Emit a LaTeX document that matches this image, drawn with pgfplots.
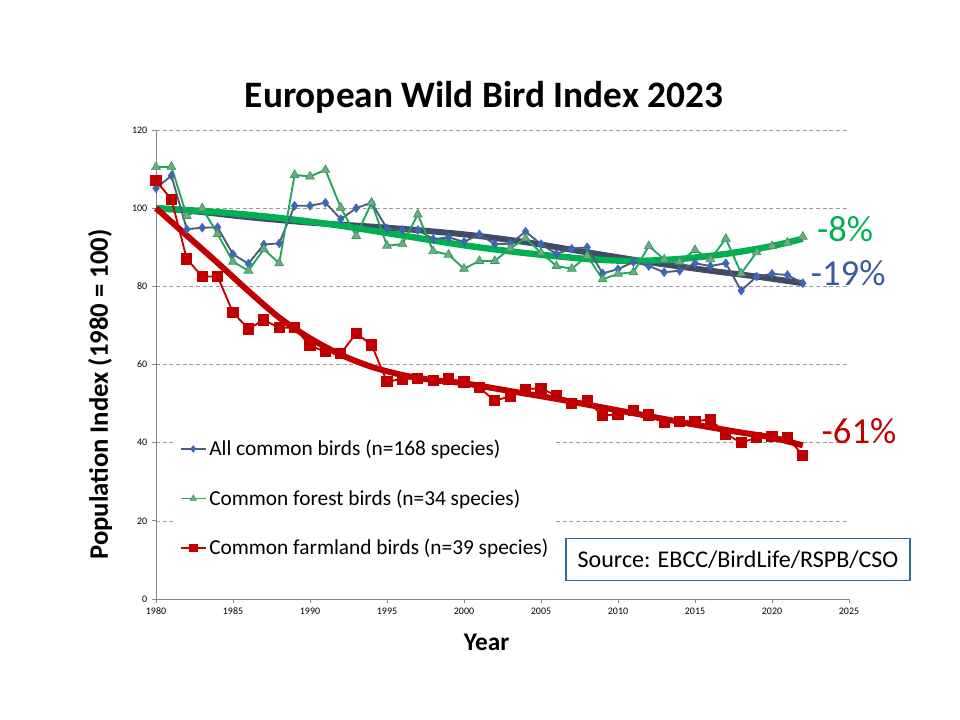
\documentclass[border=0pt]{standalone}
\usepackage{fontspec}
\setmainfont{Carlito}
\usepackage{pgfplots}
\pgfplotsset{compat=1.18}
\definecolor{bluedata}{HTML}{4D5A7A}
\definecolor{bluemark}{HTML}{3E66B4}
\definecolor{bluetrend}{HTML}{414B67}
\definecolor{greendata}{HTML}{1FA65A}
\definecolor{greenmark}{HTML}{7FA287}
\definecolor{greentrend}{HTML}{00B050}
\definecolor{reddata}{HTML}{C00000}
\definecolor{bluelabel}{HTML}{3A5A9E}
\definecolor{srcbox}{HTML}{2E6E9E}
\definecolor{axisgray}{HTML}{868686}
\begin{document}
\begin{tikzpicture}[x=1pt,y=1pt]
\path[use as bounding box] (0,0) rectangle (720,540);
\node[font=\bfseries\fontsize{28}{32}\selectfont] at (363,467) {European Wild Bird Index 2023};
\node[font=\bfseries\fontsize{20}{24}\selectfont, rotate=90] at (75,244) {Population Index (1980 = 100)};
\node[font=\bfseries\fontsize{19}{22}\selectfont] at (365,58) {Year};
\begin{axis}[
  at={(117pt,90.75pt)}, anchor=south west,
  scale only axis, width=519.75pt, height=351.75pt,
  xmin=1980, xmax=2025, ymin=0, ymax=120,
  xtick={1980,1985,...,2025}, ytick={0,20,...,120},
  axis lines*=left,
  axis line style={axisgray, line width=0.6pt},
  tick style={axisgray, line width=0.6pt},
  tick align=outside, major tick length=3pt,
  ymajorgrids,
  major grid style={gray!80, densely dashed, line width=0.4pt},
  ticklabel style={font=\fontsize{7.5}{9}\selectfont},
  /pgf/number format/assume math mode=true,
  x tick label style={/pgf/number format/1000 sep={}},
  clip=false,
  legend cell align=left,
  legend image code/.code={\draw[mark repeat=2, mark phase=2, mark size=2.6pt, line width=1.2pt]
    plot coordinates {(0cm,0cm)(0.33cm,0cm)(0.66cm,0cm)};},
  legend style={at={(0.0265,0.362)}, anchor=north west, draw=none, fill=white,
    font=\fontsize{16}{19}\selectfont, row sep=20pt, inner xsep=4pt, inner ysep=6pt},
]
% trend lines
\addplot[forget plot, bluetrend, line width=4.5pt, smooth] coordinates {
(1980,100)(1983,99)(1986,97.7)(1990,96.3)(1995,95.0)(2000,93.3)(2004,91.3)(2008,88.7)(2012,86.2)(2016,84)(2019,82.5)(2022,80.8)};
\addplot[forget plot, greentrend, line width=4.8pt, smooth] coordinates {
(1980,100)(1984,99)(1988,97.5)(1992,95.5)(1996,93)(2000,90.5)(2004,88.5)(2008,87)(2011,86.5)(2014,87)(2017,88.3)(2020,90.3)(2022,92.2)};
\addplot[forget plot, reddata, line width=4.5pt, smooth] coordinates {
(1980,100)(1982,93)(1984,86)(1986,78.8)(1988,72)(1990,66.7)(1992,62.5)(1994,59.4)(1996,57.3)(1998,56)(2000,55.2)(2003,53.2)(2006,51.2)(2009,49)(2012,46.8)(2015,44.6)(2018,42.6)(2020,41.3)(2022,39.3)};
% data
\addplot[bluedata, line width=1.4pt, mark=diamond*, mark size=3.4pt, mark options={fill=bluemark, draw=bluemark, line width=0.3pt}] coordinates {
(1980,105.1)(1981,108.3)(1982,94.6)(1983,95.0)(1984,95.1)(1985,88.2)(1986,85.8)(1987,90.7)(1988,91.0)(1989,100.6)
(1990,100.6)(1991,101.4)(1992,97.2)(1993,100.0)(1994,101.4)(1995,94.8)(1996,94.4)(1997,94.4)(1998,92.1)(1999,92.5)
(2000,91.4)(2001,93.3)(2002,90.8)(2003,90.9)(2004,94.0)(2005,90.8)(2006,88.3)(2007,89.6)(2008,90.0)(2009,83.3)
(2010,84.4)(2011,86.2)(2012,85.2)(2013,83.6)(2014,84.0)(2015,85.9)(2016,85.2)(2017,85.9)(2018,78.9)(2019,82.5)
(2020,83.2)(2021,82.9)(2022,80.8)};
\addlegendentry{All common birds (n=168 species)}
\addplot[greendata, line width=1.4pt, mark=triangle*, mark size=3.8pt, mark options={fill=greenmark, draw=greendata, line width=0.5pt}] coordinates {
(1980,110.5)(1981,110.6)(1982,98.0)(1983,100.0)(1984,93.4)(1985,86.3)(1986,84.0)(1987,89.5)(1988,85.9)(1989,108.5)
(1990,108.1)(1991,109.8)(1992,100.1)(1993,92.9)(1994,101.4)(1995,90.4)(1996,90.8)(1997,98.4)(1998,89.0)(1999,88.1)
(2000,84.5)(2001,86.5)(2002,86.5)(2003,89.7)(2004,92.3)(2005,88.6)(2006,85.2)(2007,84.5)(2008,87.8)(2009,81.8)
(2010,83.2)(2011,83.6)(2012,90.3)(2013,86.9)(2014,86.3)(2015,89.3)(2016,86.9)(2017,92.2)(2018,83.3)(2019,88.7)
(2020,90.3)(2021,91.2)(2022,92.7)};
\addlegendentry{Common forest birds (n=34 species)}
\addplot[reddata, line width=1.4pt, mark=square*, mark size=3.5pt, mark options={fill=reddata, draw=reddata}] coordinates {
(1980,107.0)(1981,102.3)(1982,87.0)(1983,82.5)(1984,82.5)(1985,73.3)(1986,69.1)(1987,71.4)(1988,69.4)(1989,69.4)
(1990,64.8)(1991,63.3)(1992,62.8)(1993,68.0)(1994,65.0)(1995,55.6)(1996,56.3)(1997,56.4)(1998,55.9)(1999,56.3)
(2000,55.5)(2001,54.1)(2002,50.7)(2003,51.9)(2004,53.7)(2005,53.9)(2006,52.0)(2007,50.1)(2008,50.7)(2009,46.9)
(2010,47.3)(2011,48.2)(2012,47.1)(2013,45.2)(2014,45.4)(2015,45.4)(2016,46.0)(2017,42.2)(2018,40.0)(2019,41.3)
(2020,41.5)(2021,41.3)(2022,36.8)};
\addlegendentry{Common farmland birds (n=39 species)}
\node[text=greentrend, font=\fontsize{27.5}{30}\selectfont] at (axis cs:2024.75,94.7) {-8\%};
\node[text=bluelabel, font=\fontsize{27.5}{30}\selectfont] at (axis cs:2024.95,83.4) {-19\%};
\node[text=reddata, font=\fontsize{27.5}{30}\selectfont] at (axis cs:2025.65,43.0) {-61\%};
\end{axis}
\node[draw=srcbox, line width=0.8pt, fill=white, minimum width=258pt, minimum height=32pt, inner sep=0pt, font=\fontsize{18}{21}\selectfont] at (553.5,120.4) {Source: EBCC/BirdLife/RSPB/CSO};
\end{tikzpicture}
\end{document}
